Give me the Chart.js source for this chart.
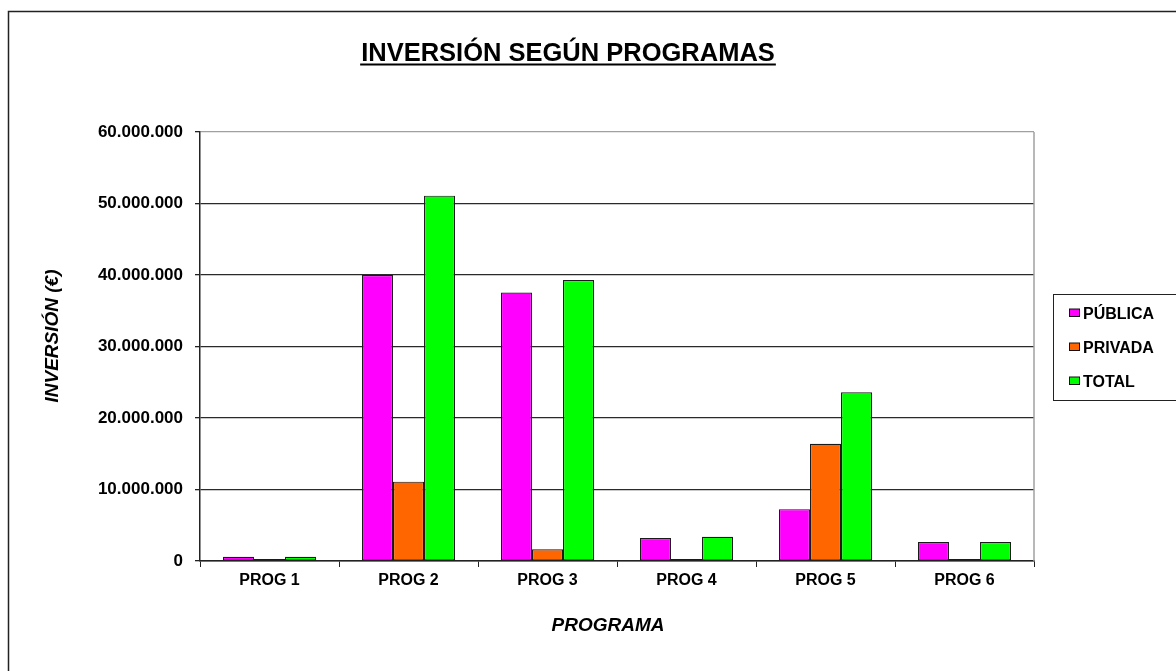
<!DOCTYPE html>
<html>
<head>
<meta charset="utf-8">
<title>Inversión según programas</title>
<script src="https://cdn.jsdelivr.net/npm/chart.js@4.4.1/dist/chart.umd.min.js"></script>
<style>
    html, body { margin: 0; padding: 0; background: #fff; }
    #wrap { width: 1176px; height: 671px; position: relative; }
</style>
</head>
<body>
<div id="wrap"><canvas id="invChart" width="1176" height="671"></canvas></div>
<script>
// values (euros)
const programas = ['PROG 1', 'PROG 2', 'PROG 3', 'PROG 4', 'PROG 5', 'PROG 6'];
const publica = [580000, 40000000, 37550000, 3200000, 7250000, 2650000];
const privada = [100000, 11100000, 1630000, 100000, 16400000, 100000];
const total = [590000, 51100000, 39300000, 3400000, 23600000, 2650000];
const serieNames = ['PÚBLICA', 'PRIVADA', 'TOTAL'];
const serieColors = ['#ff00ff', '#ff6600', '#00ff00'];
const yTicks = [0, 10000000, 20000000, 30000000, 40000000, 50000000, 60000000];

const FONT = '"Liberation Sans", Arial, sans-serif';
Chart.defaults.font.family = FONT;
Chart.defaults.color = '#000';

function puntos(v) {
    // 60000000 -> 60.000.000
    return String(v).replace(/\B(?=(\d{3})+(?!\d))/g, '.');
}

// title, axis titles, frame, plot border and boxed legend
const decor = {
    id: 'decor',
    afterDraw(chart) {
        const c = chart.ctx;
        const area = chart.chartArea;
        c.save();

        // outer frame (only top/left visible)
        c.strokeStyle = '#222';
        c.lineWidth = 1.5;
        c.beginPath();
        c.moveTo(8.5, 700);
        c.lineTo(8.5, 11.5);
        c.lineTo(1200, 11.5);
        c.stroke();

        // gray right border of plot area
        c.strokeStyle = '#a0a0a0';
        c.lineWidth = 1.5;
        c.beginPath();
        c.moveTo(area.right, area.top);
        c.lineTo(area.right, area.bottom);
        c.stroke();

        // underlined title
        c.fillStyle = '#000';
        c.font = 'bold 25.5px ' + FONT;
        c.textAlign = 'center';
        c.textBaseline = 'alphabetic';
        const title = 'INVERSIÓN SEGÚN PROGRAMAS';
        c.fillText(title, 568, 60.5);
        const w = c.measureText(title).width;
        c.fillRect(568 - w / 2 - 1, 63.5, w + 2, 2);

        // axis titles
        c.font = 'italic bold 19px ' + FONT;
        c.textBaseline = 'middle';
        c.fillText('PROGRAMA', 608, 626);
        c.save();
        c.translate(53, 336);
        c.rotate(-Math.PI / 2);
        c.fillText('INVERSIÓN (€)', 0, 0);
        c.restore();

        // legend box
        c.strokeStyle = '#222';
        c.lineWidth = 1;
        c.strokeRect(1053.5, 294.5, 200, 106);
        c.font = 'bold 16px ' + FONT;
        c.textAlign = 'left';
        c.textBaseline = 'alphabetic';
        chart.data.datasets.forEach((ds, i) => {
            const base = 318.5 + i * 34;
            c.fillStyle = ds.backgroundColor;
            c.fillRect(1069.5, base - 9.5, 10, 7.5);
            c.strokeStyle = '#111';
            c.strokeRect(1069.5, base - 9.5, 10, 7.5);
            c.fillStyle = '#000';
            c.fillText(ds.label, 1083, base);
        });
        c.restore();
    }
};

const series = [publica, privada, total];

const config = {
    type: 'bar',
    data: {
        labels: programas,
        datasets: series.map((vals, i) => ({
            label: serieNames[i],
            data: vals,
            backgroundColor: serieColors[i],
            borderColor: '#1a1a1a',
            borderWidth: 1.2,
            borderSkipped: false,
            minBarLength: 2,
            categoryPercentage: 0.67,
            barPercentage: 1.0
        }))
    },
    options: {
        responsive: false,
        animation: false,
        devicePixelRatio: 1,
        layout: { padding: { top: 132, right: 142, left: 0, bottom: 0 } },
        plugins: {
            legend: { display: false },
            title: { display: false },
            tooltip: { enabled: false }
        },
        scales: {
            x: {
                ticks: { color: '#000', padding: 4, font: { size: 16, weight: 'bold' } },
                grid: { display: true, drawOnChartArea: false, offset: true, color: '#222', tickLength: 6 },
                border: { color: '#222', width: 1.5 },
                afterFit(scale) { scale.height = 110; }
            },
            y: {
                min: 0,
                max: 60000000,
                afterBuildTicks(scale) { scale.ticks = yTicks.map(v => ({ value: v })); },
                ticks: {
                    color: '#000',
                    padding: 12,
                    font: { size: 17, weight: 'bold' },
                    callback: v => puntos(v)
                },
                grid: {
                    color: ctx => ctx.tick && ctx.tick.value === 60000000 ? '#a0a0a0' : '#2a2a2a',
                    tickColor: '#222',
                    tickLength: 5,
                    lineWidth: 1.3
                },
                border: { color: '#222', width: 1.5 },
                afterFit(scale) { scale.width = 200; }
            }
        }
    },
    plugins: [decor]
};

const ctx = document.getElementById('invChart').getContext('2d');
const invChart = new Chart(ctx, config);
</script>
</body>
</html>
